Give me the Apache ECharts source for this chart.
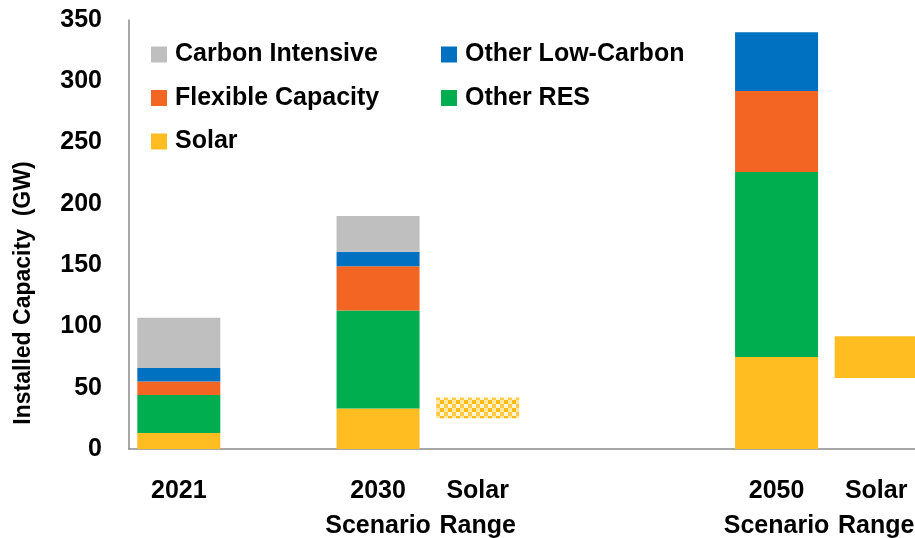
<!DOCTYPE html>
<html>
<head>
<meta charset="utf-8">
<script src="https://cdn.jsdelivr.net/npm/echarts@6/dist/echarts.min.js"></script>
<style>
html,body{margin:0;padding:0;background:#fff;overflow:hidden;}
#chart{width:915px;height:538px;}
</style>
</head>
<body>
<div id="chart"></div>
<script>
// ---- Data (GW) ----
var categories = ['2021', '', '2030\nScenario', 'Solar\nRange', '', '', '2050\nScenario', 'Solar\nRange'];
var yTicks = [0, 50, 100, 150, 200, 250, 300, 350];

var solar           = [13, '-', 33, '-', '-', '-', 75, '-'];
var otherRES        = [31, '-', 80, '-', '-', '-', 151, '-'];
var flexible        = [11, '-', 36, '-', '-', '-', 66, '-'];
var otherLowCarbon  = [11, '-', 12, '-', '-', '-', 48, '-'];
var carbonIntensive = [41, '-', 29, '-', '-', '-', '-', '-'];

var solarRangeLow  = ['-', '-', '-', 25, '-', '-', '-', 58];
var solarRangeHigh = ['-', '-', '-', 42, '-', '-', '-', 92];
var rangeHatched   = [false, false, false, true, false, false, false, false];

// ---- Styling ----
var FONT = '"Liberation Sans", Arial, sans-serif';
var colors = {
  'Carbon Intensive': '#BFBFBF',
  'Other Low-Carbon': '#0070C0',
  'Flexible Capacity': '#F26522',
  'Other RES': '#00AE4F',
  'Solar': '#FFBD22'
};

// checker pattern for the 2030 solar range
var pc = document.createElement('canvas');
pc.width = 8; pc.height = 8;
var g = pc.getContext('2d');
g.fillStyle = '#FFFFFF'; g.fillRect(0, 0, 8, 8);
g.fillStyle = '#FFB915'; g.fillRect(0, 0, 4, 4);
g.fillStyle = '#FFE7A6'; g.fillRect(4, 0, 4, 4);
g.fillStyle = '#FFF4D6'; g.fillRect(0, 4, 4, 4);
g.fillStyle = '#FFCB45'; g.fillRect(4, 4, 4, 4);
var pattern = { image: pc, repeat: 'repeat' };

var rangeBase = solarRangeLow.map(function (v) { return v; });
var rangeSpan = solarRangeHigh.map(function (h, i) {
  if (h === '-') return '-';
  return {
    value: h - solarRangeLow[i],
    itemStyle: { color: rangeHatched[i] ? pattern : colors['Solar'] }
  };
});

function barSeries(name, data) {
  return {
    name: name, type: 'bar', stack: 'total', data: data,
    barWidth: 83,
    itemStyle: { color: colors[name] },
    emphasis: { disabled: true }
  };
}

var chart = echarts.init(document.getElementById('chart'), null, { renderer: 'canvas' });
var legendText = { fontFamily: FONT, fontWeight: 'bold', fontSize: 25, color: '#000', padding: [0, 0, 0, 3] };

chart.setOption({
  animation: false,
  backgroundColor: '#fff',
  grid: { left: 129, top: 20, width: 797, bottom: 89, containLabel: false, outerBoundsMode: 'none' },
  legend: [
    {
      orient: 'vertical', left: 151, top: 42, padding: 0,
      itemWidth: 16, itemHeight: 16, itemGap: 18.5, icon: 'rect',
      selectedMode: false,
      data: ['Carbon Intensive', 'Flexible Capacity', 'Solar'],
      textStyle: legendText
    },
    {
      orient: 'vertical', left: 441, top: 42, padding: 0,
      itemWidth: 16, itemHeight: 16, itemGap: 18.5, icon: 'rect',
      selectedMode: false,
      data: ['Other Low-Carbon', 'Other RES'],
      textStyle: legendText
    }
  ],
  xAxis: {
    type: 'category',
    data: categories,
    axisLine: { show: true, lineStyle: { color: '#8C8C8C', width: 1.5 } },
    axisTick: { show: false },
    axisLabel: {
      interval: 0, margin: 25,
      fontFamily: FONT, fontWeight: 'bold', fontSize: 25, color: '#000',
      lineHeight: 35
    }
  },
  yAxis: {
    type: 'value',
    min: yTicks[0], max: yTicks[yTicks.length - 1], interval: 50,
    axisLine: { show: true, lineStyle: { color: '#8C8C8C', width: 1.5 } },
    axisTick: { show: false },
    splitLine: { show: false },
    axisLabel: {
      margin: 27,
      fontFamily: FONT, fontWeight: 'bold', fontSize: 25, color: '#000'
    }
  },
  graphic: [{
    type: 'text',
    x: 24, y: 293,
    rotation: Math.PI / 2,
    style: {
      text: 'Installed Capacity  (GW)',
      fontFamily: FONT, fontWeight: 'bold', fontSize: 23, fill: '#000',
      align: 'center', verticalAlign: 'middle'
    }
  }],
  series: [
    barSeries('Solar', solar),
    barSeries('Other RES', otherRES),
    barSeries('Flexible Capacity', flexible),
    barSeries('Other Low-Carbon', otherLowCarbon),
    barSeries('Carbon Intensive', carbonIntensive),
    {
      name: 'rangeBase', type: 'bar', stack: 'total', data: rangeBase, barWidth: 83,
      itemStyle: { color: 'rgba(0,0,0,0)' }, emphasis: { disabled: true }
    },
    {
      name: 'rangeSpan', type: 'bar', stack: 'total', data: rangeSpan, barWidth: 83,
      itemStyle: { color: colors['Solar'] }, emphasis: { disabled: true }
    }
  ]
});
</script>
</body>
</html>
